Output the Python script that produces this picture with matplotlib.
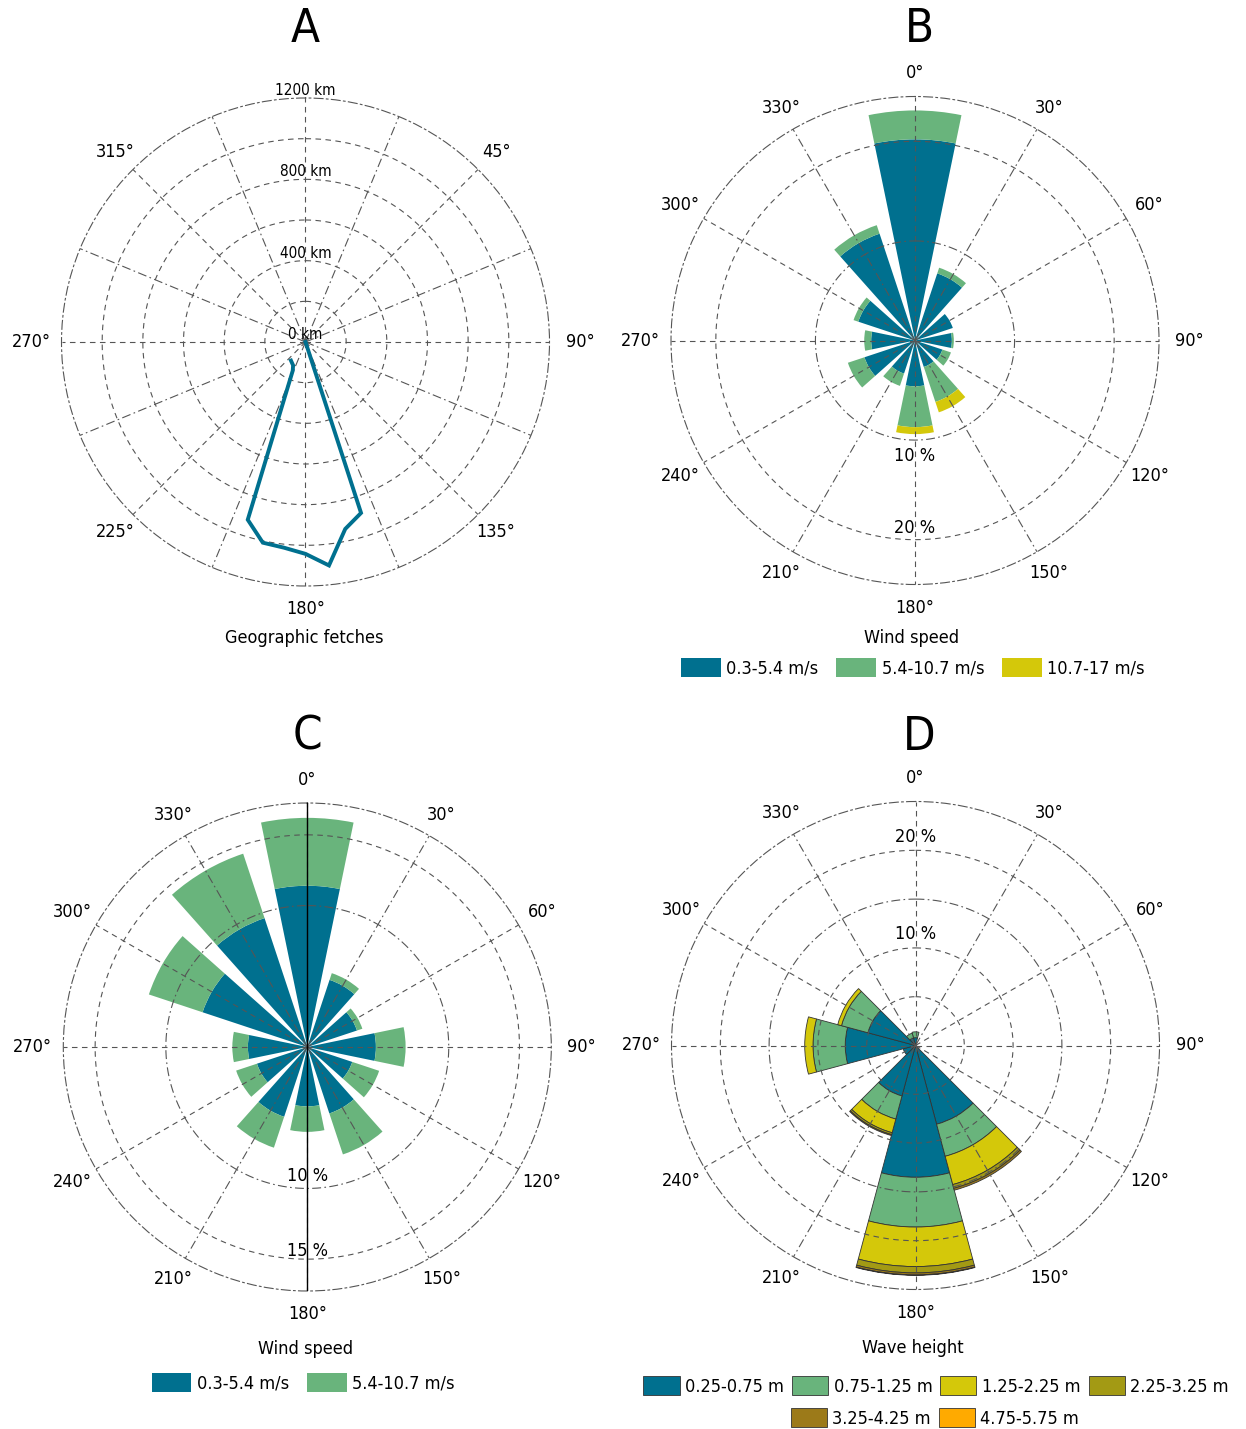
import numpy as np
import matplotlib.pyplot as plt
from matplotlib.patches import Patch

plt.rcParams['font.family'] = ['DejaVu Sans']
plt.rcParams['font.stretch'] = 'condensed'

BLUE = '#00708f'
GREEN = '#69b47c'
YELLOW = '#d4c80a'
OLIVE = '#a39a14'
BROWN = '#9c7a19'
ORANGE = '#ffaa00'
GRID = '#555555'

# A: geographic fetch (km) along bearing (deg)
fetch_bearing = [156, 162, 168, 174, 180, 186, 192, 198, 204, 208, 218]
fetch_km = [0, 884, 940, 1105, 1042, 1017, 1009, 919, 154, 130, 116]

# B, C, D: 12 direction sectors
sectors = [0, 30, 60, 90, 120, 150, 180, 210, 240, 270, 300, 330]

# B: wind speed frequency (%)
wind_b_low = [20.2, 7.1, 4.0, 3.7, 2.9, 2.8, 4.6, 3.5, 5.35, 4.4, 6.0, 11.3]
wind_b_mid = [2.9, 0.6, 0.0, 0.2, 0.9, 3.7, 4.1, 1.3, 1.75, 0.7, 0.5, 0.9]
wind_b_high = [0, 0, 0, 0, 0, 1.1, 0.7, 0, 0, 0, 0, 0]
wind_b_labels = ['0.3-5.4 m/s', '5.4-10.7 m/s', '10.7-17 m/s']

# C: wind speed frequency (%)
wind_c_low = [11.4, 5.0, 3.7, 4.85, 3.35, 4.95, 4.2, 5.2, 3.75, 4.2, 7.8, 9.6]
wind_c_mid = [4.8, 0.5, 0.4, 2.1, 2.0, 3.05, 1.8, 2.3, 1.55, 1.1, 4.0, 4.8]
wind_c_labels = ['0.3-5.4 m/s', '5.4-10.7 m/s']

# D: wave height frequency (%)
wave_1 = [0.8, 0, 0, 0, 0, 8.35, 13.5, 5.35, 1.3, 7.2, 5.05, 0.8]
wave_2 = [0.6, 0, 0, 0, 0, 3.4, 5.1, 2.45, 0, 3.3, 2.8, 0.5]
wave_3 = [0, 0, 0, 0, 0, 3.0, 4.05, 1.45, 0, 0.85, 0.4, 0]
wave_4 = [0, 0, 0, 0, 0, 0.4, 0.65, 0.2, 0, 0, 0, 0]
wave_5 = [0, 0, 0, 0, 0, 0.2, 0.2, 0.1, 0, 0, 0, 0]
wave_6 = [0, 0, 0, 0, 0, 0, 0.05, 0, 0, 0, 0, 0]
wave_labels = ['0.25-0.75 m', '0.75-1.25 m', '1.25-2.25 m', '2.25-3.25 m',
               '3.25-4.25 m', '4.75-5.75 m']

DASH = (0, (5, 4))
DASHDOT = (0, (8, 3, 1.5, 3))
FS = 13

W, H = 1246, 1429
fig = plt.figure(figsize=(W / 100, H / 100), dpi=100)


def polar_at(cx, cy, rad=244):
    ax = fig.add_axes([(cx - rad) / W, 1 - (cy + rad) / H, 2 * rad / W, 2 * rad / H],
                      projection='polar')
    ax.set_theta_zero_location('N')
    ax.set_theta_direction(-1)
    ax.grid(False)
    ax.set_xticks([])
    ax.set_yticks([])
    ax.spines['polar'].set_linestyle(DASHDOT)
    ax.spines['polar'].set_edgecolor(GRID)
    ax.spines['polar'].set_linewidth(0.8)
    return ax


def grid(ax, rmax, rings, ring_styles, spokes, spoke_styles):
    t = np.linspace(0, 2 * np.pi, 361)
    for r, ls in zip(rings, ring_styles):
        ax.plot(t, np.full_like(t, r), ls=ls, color=GRID, lw=0.8, zorder=3)
    for a, ls in zip(spokes, spoke_styles):
        ax.plot([np.radians(a)] * 2, [0, rmax], ls=ls, color=GRID, lw=0.8, zorder=3)
    ax.set_ylim(0, rmax)


def angle_labels(ax, rmax, angles):
    for a in angles:
        th = np.radians(a)
        f = 1.125 - 0.03 * abs(np.cos(th))
        ax.text(th, rmax * f, f'{a}°', ha='center', va='center', fontsize=FS)


def stack(ax, series, colors, width, edge=None):
    theta = np.radians(sectors)
    bottom = np.zeros(len(sectors))
    for vals, c in zip(series, colors):
        v = np.array(vals, dtype=float)
        m = v > 0
        ax.bar(theta[m], v[m], width=np.radians(width), bottom=bottom[m], color=c,
               edgecolor=edge if edge else 'none', linewidth=0.6 if edge else 0,
               zorder=1)
        bottom += v


spokes30 = sectors
styles30 = [DASHDOT if a % 180 in (30, 150) else DASH for a in sectors]

# A: geographic fetches
axA = polar_at(305.5, 342)
spokesA = list(np.arange(0, 360, 22.5))
grid(axA, 1200, [200, 400, 600, 800, 1000], [DASH] * 5,
     spokesA, [DASH if a % 45 == 0 else DASHDOT for a in spokesA])
axA.plot(np.radians(fetch_bearing), fetch_km, color=BLUE, lw=2.8, zorder=4,
         solid_joinstyle='miter')
for r in [0, 400, 800, 1200]:
    axA.text(0, r, f'{r} km', ha='center', va='bottom', fontsize=11, zorder=5)
angle_labels(axA, 1200, [45, 90, 135, 180, 225, 270, 315])

# B: wind speed
axB = polar_at(915, 340.5)
grid(axB, 24.5, [10, 20], [DASHDOT, DASH], spokes30, styles30)
stack(axB, [wind_b_low, wind_b_mid, wind_b_high], [BLUE, GREEN, YELLOW], 23.3)
for r, txt in [(11.6, '10 %'), (18.8, '20 %')]:
    axB.text(np.pi, r, txt, ha='center', va='center', fontsize=FS, zorder=5)
angle_labels(axB, 24.5, sectors)

# C: wind speed
axC = polar_at(307.3, 1047)
grid(axC, 17.25, [10, 15], [DASHDOT, DASH], spokes30, styles30)
stack(axC, [wind_c_low, wind_c_mid], [BLUE, GREEN], 23.3)
axC.plot([0, 0], [0, 17.25], color='black', lw=1.0, zorder=4)
axC.plot([np.pi, np.pi], [0, 17.25], color='black', lw=1.0, zorder=4)
for r, txt in [(9.15, '10 %'), (14.4, '15 %')]:
    axC.text(np.pi, r, txt, ha='center', va='center', fontsize=FS, zorder=5)
angle_labels(axC, 17.25, sectors)

# D: wave height
axD = polar_at(915.5, 1045.5)
grid(axD, 25, [5, 10, 15, 20], [DASH, DASH, DASHDOT, DASH], spokes30, styles30)
stack(axD, [wave_1, wave_2, wave_3, wave_4, wave_5, wave_6],
      [BLUE, GREEN, YELLOW, OLIVE, BROWN, ORANGE], 30, edge='#333333')
for r, txt in [(11.4, '10 %'), (21.4, '20 %')]:
    axD.text(0, r, txt, ha='center', va='center', fontsize=FS, zorder=5)
angle_labels(axD, 25, sectors)

# panel letters and captions
for x, y, s in [(305, 30, 'A'), (919, 30, 'B'), (307, 737, 'C'), (919, 737, 'D')]:
    fig.text(x / W, 1 - y / H, s, ha='center', va='center', fontsize=34)
for x, y, s in [(304, 638, 'Geographic fetches'), (912, 638, 'Wind speed'),
                (306, 1349, 'Wind speed'), (913, 1348, 'Wave height')]:
    fig.text(x / W, 1 - y / H, s, ha='center', va='center', fontsize=FS)

leg_kw = dict(loc='center', frameon=False, fontsize=FS, handlelength=2.2,
              handleheight=1.2, handletextpad=0.3, columnspacing=1.0, borderpad=0)

hB = [Patch(facecolor=c, edgecolor='none') for c in [BLUE, GREEN, YELLOW]]
fig.legend(hB, wind_b_labels, ncol=3, bbox_to_anchor=(913 / W, 1 - 668 / H), **leg_kw)

hC = [Patch(facecolor=c, edgecolor='none') for c in [BLUE, GREEN]]
fig.legend(hC, wind_c_labels, ncol=2, bbox_to_anchor=(303 / W, 1 - 1383 / H), **leg_kw)

wave_colors = [BLUE, GREEN, YELLOW, OLIVE, BROWN, ORANGE]
hD = [Patch(facecolor=c, edgecolor='#333333', linewidth=0.6) for c in wave_colors]
leg_kw.update(columnspacing=0.45, handlelength=2.0)
fig.legend(hD[:4], wave_labels[:4], ncol=4, bbox_to_anchor=(936 / W, 1 - 1386 / H), **leg_kw)
fig.legend(hD[4:], wave_labels[4:], ncol=2, bbox_to_anchor=(935 / W, 1 - 1418 / H), **leg_kw)

fig.savefig('out.png', dpi=100)
